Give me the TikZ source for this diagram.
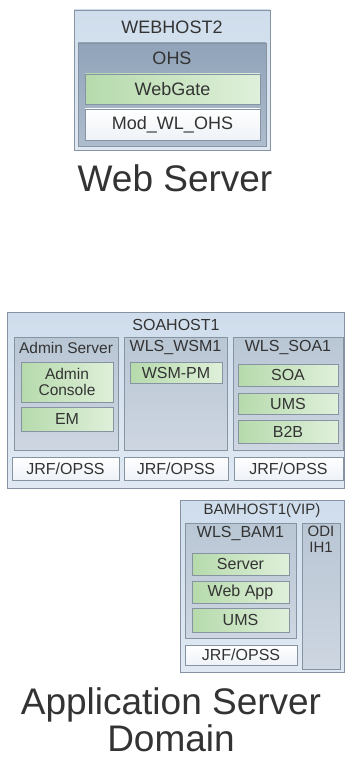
\documentclass[tikz,border=0pt]{standalone}
\usepackage{fontspec}
\setmainfont{Liberation Sans}
\definecolor{txt}{HTML}{333333}
\definecolor{line}{HTML}{8593A3}
\definecolor{hostA}{HTML}{CFDDEC}
\definecolor{hostB}{HTML}{E0E9F3}
\definecolor{colA}{HTML}{B9C6D4}
\definecolor{colB}{HTML}{CDD6E1}
\definecolor{ohsA}{HTML}{90A3B9}
\definecolor{ohsB}{HTML}{AEBDCD}
\definecolor{grnA}{HTML}{B6DAAC}
\definecolor{grnB}{HTML}{DFF0DA}
\definecolor{whtA}{HTML}{FFFFFF}
\definecolor{whtB}{HTML}{EEF2F7}
\tikzset{
  box/.style={draw=line, line width=0.9pt, inner sep=0pt, text=txt},
  hostbox/.style={box, top color=hostA, bottom color=hostB},
  colbox/.style={box, top color=colA, bottom color=colB},
  ohsbox/.style={box, top color=ohsA, bottom color=ohsB},
  greenbox/.style={box, left color=grnA, right color=grnB},
  whitebox/.style={box, top color=whtA, bottom color=whtB},
  ttl/.style={text=txt, inner sep=0pt},
  sz/.style={font=\fontsize{#1}{#1}\selectfont}
}
\begin{document}
\begin{tikzpicture}[x=1pt,y=-1pt]
\useasboundingbox (0,0) rectangle (345,759);
% Web server
\node[hostbox, minimum width=196, minimum height=140] (webhost) at (172,80) {};
\node[ttl, sz=18] (webhostT) at (172,27) {WEBHOST2};
\node[ohsbox, minimum width=188, minimum height=103] (ohs) at (172,94.5) {};
\node[ttl, sz=18] (ohsT) at (172,58) {OHS};
\node[greenbox, sz=18, minimum width=175, minimum height=30] (webgate) at (172.5,89) {WebGate};
\node[whitebox, sz=18, minimum width=175, minimum height=31] (modwl) at (172.5,124.5) {Mod\_WL\_OHS};
\node[ttl, sz=37, anchor=base] (websrv) at (175,192) {Web Server};
% SOAHOST1
\node[hostbox, minimum width=337, minimum height=176] (soahost) at (175.5,400) {};
\node[ttl, sz=16] (soahostT) at (176,325) {SOAHOST1};
\node[colbox, minimum width=104, minimum height=113] (admin) at (66,393.5) {};
\node[ttl, sz=15.5] (adminT) at (66,348) {Admin Server};
\node[colbox, minimum width=103, minimum height=113] (wsm) at (175.5,393.5) {};
\node[ttl, sz=16] (wsmT) at (175.5,348) {WLS\_WSM1};
\node[colbox, minimum width=110, minimum height=113] (soa) at (288,393.5) {};
\node[ttl, sz=16] (soaT) at (288,348) {WLS\_SOA1};
\node[greenbox, sz=15.5, minimum width=92, minimum height=40, align=center] (console) at (67,382) {Admin\\[1pt]Console};
\node[greenbox, sz=16, minimum width=92, minimum height=24] (em) at (67,419) {EM};
\node[greenbox, sz=16, minimum width=92, minimum height=21] (wsmpm) at (176,372.5) {WSM-PM};
\node[greenbox, sz=16, minimum width=100, minimum height=22] (soaapp) at (288,375) {SOA};
\node[greenbox, sz=16, minimum width=100, minimum height=21] (ums1) at (288,403.5) {UMS};
\node[greenbox, sz=16, minimum width=100, minimum height=23] (b2b) at (288,431.5) {B2B};
\node[whitebox, sz=16, minimum width=107, minimum height=23] (jrf1) at (65.5,468.5) {JRF/OPSS};
\node[whitebox, sz=16, minimum width=104, minimum height=23] (jrf2) at (176,468.5) {JRF/OPSS};
\node[whitebox, sz=16, minimum width=109, minimum height=23] (jrf3) at (288.5,468.5) {JRF/OPSS};
% BAMHOST1
\node[hostbox, minimum width=164, minimum height=172] (bamhost) at (262,586) {};
\node[ttl, sz=15] (bamhostT) at (262,511) {BAMHOST1(VIP)};
\node[colbox, minimum width=111, minimum height=115] (bam) at (240.5,580.5) {};
\node[ttl, sz=16] (bamT) at (240.5,533) {WLS\_BAM1};
\node[colbox, minimum width=38, minimum height=146] (odi) at (321,596) {};
\node[ttl, sz=15, align=center, anchor=north] (odiT) at (321,526) {ODI\\[1pt]IH1};
\node[greenbox, sz=16, minimum width=97, minimum height=22] (server) at (240.5,564) {Server};
\node[greenbox, sz=16, minimum width=97, minimum height=22] (webapp) at (240.5,592) {Web App};
\node[greenbox, sz=16, minimum width=97, minimum height=24] (ums2) at (240.5,620) {UMS};
\node[whitebox, sz=16, minimum width=112, minimum height=20] (jrf4) at (241,655) {JRF/OPSS};
% caption
\node[ttl, sz=37, anchor=base] (appT1) at (171,714) {Application Server};
\node[ttl, sz=37, anchor=base] (appT2) at (171,751) {Domain};
\end{tikzpicture}
\end{document}
